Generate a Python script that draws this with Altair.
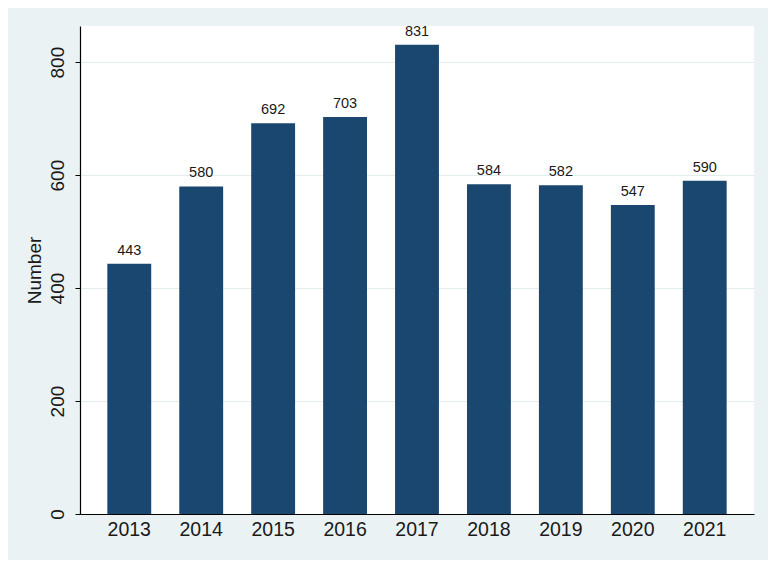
import altair as alt
import pandas as pd

years = ["2013", "2014", "2015", "2016", "2017", "2018", "2019", "2020", "2021"]
numbers = [443, 580, 692, 703, 831, 584, 582, 547, 590]
y_ticks = [0, 200, 400, 600, 800]

df = pd.DataFrame({"year": years, "number": numbers})

FONT = "Liberation Sans"
BAR = "#1A476F"
BG = "#EAF2F3"

x = alt.X(
    "year:N",
    sort=years,
    title=None,
    scale=alt.Scale(paddingInner=0.39, paddingOuter=0.38),
    axis=alt.Axis(
        labelAngle=0,
        labelFont=FONT,
        labelFontSize=19.5,
        labelColor="#1a1a1a",
        labelPadding=6,
        ticks=False,
        domainColor="#000000",
        domainWidth=1.2,
        grid=False,
    ),
)
y = alt.Y(
    "number:Q",
    title="Number",
    scale=alt.Scale(domain=[0, 864], nice=False, zero=True),
    axis=alt.Axis(
        values=y_ticks,
        labelAngle=270,
        labelAlign="center",
        labelBaseline="bottom",
        labelFont=FONT,
        labelFontSize=19,
        labelColor="#1a1a1a",
        labelPadding=8,
        tickSize=5,
        tickColor="#000000",
        domainColor="#000000",
        domainWidth=1.2,
        grid=True,
        gridColor="#E3ECEE",
        gridWidth=1,
        titleFont=FONT,
        titleFontSize=19,
        titleFontWeight="normal",
        titleColor="#1a1a1a",
        titlePadding=4,
    ),
)

bars = alt.Chart(df).mark_bar(color=BAR).encode(x=x, y=y)
labels = alt.Chart(df).mark_text(
    baseline="bottom", dy=-6, font=FONT, fontSize=14.5, color="#1a1a1a"
).encode(x=alt.X("year:N", sort=years), y="number:Q", text="number:Q")

chart = (
    alt.layer(bars, labels)
    .properties(
        width=674,
        height=488,
        background=BG,
        autosize=alt.AutoSizeParams(type="none"),
        padding={"left": 72, "top": 18, "right": 14, "bottom": 46},
    )
    .configure_view(fill="white", stroke=None)
)

chart.save("out.html", embed_options={"renderer": "svg", "actions": False})
